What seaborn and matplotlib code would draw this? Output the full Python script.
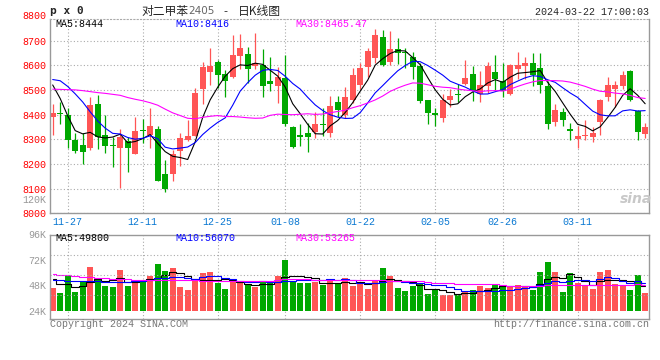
import numpy as np
import pandas as pd
import matplotlib
matplotlib.use('Agg')
import matplotlib.pyplot as plt
import seaborn as sns

# trading days on the chart (exchange shut 2024-01-01 and 2024-02-09..16)
holidays = ['2024-01-01', '2024-02-09', '2024-02-12', '2024-02-13',
            '2024-02-14', '2024-02-15', '2024-02-16']
dates = pd.bdate_range('2023-11-23', '2024-03-22', freq='C', holidays=holidays)

opens = [8392, 8405, 8399, 8295, 8277, 8264, 8443, 8318, 8278, 8266,
         8291, 8241, 8338, 8318, 8342, 8160, 8158, 8253, 8295, 8314,
         8504, 8574, 8611, 8565, 8551, 8638, 8646, 8595, 8601, 8537,
         8516, 8547, 8351, 8318, 8324, 8331, 8362, 8324, 8449, 8399,
         8459, 8520, 8591, 8628, 8716, 8611, 8665, 8655, 8632, 8595,
         8459, 8405, 8388, 8459, 8484, 8523, 8565, 8484, 8514, 8574,
         8537, 8484, 8585, 8595, 8608, 8588, 8514, 8368, 8412, 8342,
         8303, 8314, 8308, 8368, 8473, 8503, 8514, 8577, 8416, 8322]
highs = [8443, 8449, 8426, 8324, 8324, 8470, 8479, 8399, 8308, 8341,
         8308, 8392, 8384, 8426, 8354, 8214, 8257, 8327, 8376, 8507,
         8611, 8669, 8622, 8581, 8723, 8727, 8673, 8732, 8665, 8635,
         8592, 8642, 8354, 8360, 8365, 8410, 8426, 8476, 8476, 8511,
         8590, 8608, 8669, 8746, 8743, 8739, 8709, 8669, 8655, 8608,
         8459, 8426, 8484, 8503, 8524, 8622, 8595, 8577, 8615, 8642,
         8608, 8605, 8655, 8632, 8649, 8649, 8534, 8443, 8426, 8365,
         8354, 8378, 8351, 8465, 8551, 8534, 8577, 8580, 8420, 8365]
lows = [8318, 8362, 8266, 8246, 8200, 8257, 8260, 8246, 8187, 8104,
        8166, 8241, 8284, 8264, 8129, 8088, 8129, 8193, 8291, 8314,
        8443, 8520, 8507, 8473, 8547, 8584, 8527, 8584, 8473, 8496,
        8446, 8354, 8264, 8271, 8247, 8305, 8314, 8311, 8390, 8388,
        8446, 8503, 8552, 8607, 8595, 8601, 8603, 8590, 8543, 8446,
        8362, 8354, 8368, 8430, 8449, 8520, 8453, 8449, 8489, 8500,
        8470, 8480, 8543, 8543, 8514, 8486, 8341, 8354, 8354, 8297,
        8264, 8297, 8287, 8318, 8453, 8430, 8503, 8453, 8295, 8304]
closes = [8408, 8403, 8295, 8253, 8250, 8439, 8311, 8273, 8272, 8308,
          8266, 8335, 8332, 8354, 8131, 8097, 8241, 8307, 8314, 8489,
          8592, 8597, 8561, 8538, 8642, 8669, 8584, 8608, 8514, 8523,
          8551, 8362, 8270, 8311, 8308, 8361, 8356, 8435, 8419, 8470,
          8561, 8588, 8659, 8723, 8601, 8666, 8649, 8649, 8592, 8455,
          8406, 8400, 8458, 8476, 8478, 8550, 8495, 8521, 8596, 8546,
          8495, 8600, 8600, 8610, 8562, 8520, 8360, 8418, 8377, 8333,
          8314, 8319, 8327, 8460, 8521, 8520, 8561, 8461, 8328, 8349]
volumes = [45600, 40900, 56700, 41900, 51900, 65400, 52900, 47800, 46600, 62400,
           47500, 50500, 52400, 56900, 68400, 61600, 64500, 46600, 43800, 52900,
           59800, 60700, 50300, 44700, 51900, 50300, 49100, 46600, 51300, 51300,
           56900, 71700, 52200, 50600, 50600, 51600, 48500, 52200, 49100, 55200,
           47500, 50200, 44900, 52000, 64500, 56700, 45800, 42800, 47300, 49400,
           40300, 43500, 38800, 38800, 40300, 41900, 44000, 47200, 45600, 49700,
           48900, 46300, 48200, 46300, 43800, 60500, 69900, 60700, 41700, 59800,
           50100, 47200, 44900, 60500, 62400, 49700, 47200, 43600, 57700, 40900]

# moving-average values before each window fills (earlier days are off the chart)
ma5_head = [8520, 8465, 8395, 8335]
ma10_head = [8542, 8537, 8514, 8484, 8451, 8411, 8374, 8345, 8324]
ma30_head = [8503, 8502, 8501, 8500, 8497, 8493, 8489, 8486, 8482, 8478,
             8469, 8462, 8456, 8448, 8438, 8422, 8407, 8396, 8385, 8383,
             8389, 8393, 8396, 8392, 8392, 8390, 8387, 8385, 8386]
vma5_head = [53700, 49700, 49200, 46200]
vma10_head = [52900, 52900, 52500, 52300, 52000, 52000, 52000, 51500, 51000]
vma30_head = [58600, 58200, 57600, 57000, 56400, 56000, 55500, 55000, 54500, 54000,
              53800, 53500, 53200, 53000, 52900, 52900, 52900, 52900, 52800, 52700,
              52600, 52500, 52400, 52300, 52300, 52200, 52200, 52200, 52200]

tick_labels = ['11-27', '12-11', '12-25', '01-08', '01-22', '02-05', '02-26', '03-11']
price_ticks = [8000, 8100, 8200, 8300, 8400, 8500, 8600, 8700]
vol_ticks = [24000, 48000, 72000, 96000]
vol_tick_labels = ['24K', '48K', '72K', '96K']
ma_price_text = ['MA5:8444', 'MA10:8416', 'MA30:8465.47']
ma_vol_text = ['MA5:49800', 'MA10:56070', 'MA30:53265']
ma_colors = ['black', '#0000ff', '#ff00ff']

RED = '#ff5555'
GREEN = '#00a800'
GRID = '#aaaaaa'
FRAME = '#999999'
MONO = 'Liberation Mono'

sns.set_style('white')
plt.rcParams['font.family'] = ['DejaVu Sans', 'Noto Sans CJK SC']

df = pd.DataFrame({'date': dates, 'open': opens, 'high': highs, 'low': lows,
                   'close': closes, 'volume': volumes})
df['x'] = np.arange(len(df))


def moving_avg(series, window, head):
    ma = series.rolling(window).mean()
    ma.iloc[:len(head)] = head
    return ma


df['ma5'] = moving_avg(df['close'], 5, ma5_head)
df['ma10'] = moving_avg(df['close'], 10, ma10_head)
df['ma30'] = moving_avg(df['close'], 30, ma30_head)
df['vma5'] = moving_avg(df['volume'], 5, vma5_head)
df['vma10'] = moving_avg(df['volume'], 10, vma10_head)
df['vma30'] = moving_avg(df['volume'], 30, vma30_head)

colors = np.where(df['close'] >= df['open'], RED, GREEN)
labels_md = list(df['date'].dt.strftime('%m-%d'))
tick_pos = [labels_md.index(t) for t in tick_labels]

W, H = 660, 360


def fx(x):
    return x / W


def fy(y):
    return 1 - y / H


fig = plt.figure(figsize=(6.6, 3.6), dpi=100)
ax = fig.add_axes([fx(50), fy(213.3), fx(599.3), (213.3 - 19.3) / H])
axv = fig.add_axes([fx(50), fy(318.5), fx(599.3), (318.5 - 234.5) / H])

# --- price panel ---
ax.vlines(df['x'], df['low'], df['high'], colors=colors, lw=0.9)
body_low = df[['open', 'close']].min(axis=1)
body_h = (df['close'] - df['open']).abs().clip(lower=4)
ax.bar(df['x'], body_h, bottom=body_low, width=0.8, color=colors, linewidth=0)

for col, c in zip(['ma5', 'ma10', 'ma30'], ma_colors):
    sns.lineplot(x=df['x'], y=df[col], ax=ax, color=c, lw=0.8)

ax.set_xlim(-0.36, 79.55)
ax.set_ylim(8000, 8786)
ax.set_yticks(price_ticks)
ax.set_yticklabels([str(t) for t in price_ticks], family=MONO, fontsize=7.2, color='red')
ax.set_xticks(tick_pos)
ax.set_xticklabels(tick_labels, family=MONO, fontsize=7.2, color='#0a78d2')
ax.tick_params(axis='y', length=0, pad=2.5)
ax.tick_params(axis='x', length=0, pad=3)
ax.set_xlabel('')
ax.set_ylabel('')
ax.grid(True, color=GRID, linestyle=(0, (1, 2)), lw=0.8)
for side in ['left', 'bottom', 'right']:
    ax.spines[side].set_color(FRAME)
    ax.spines[side].set_linewidth(1)
ax.spines['top'].set_color(GRID)
ax.spines['top'].set_linestyle((0, (1, 2)))
ax.annotate('8800', xy=(0, 8800), xycoords=ax.get_yaxis_transform(),
            xytext=(-4, 0), textcoords='offset pixels', ha='right', va='center',
            family=MONO, fontsize=7.2, color='red', annotation_clip=False)

# --- volume panel ---
axv.bar(df['x'], df['volume'] - vol_ticks[0], bottom=vol_ticks[0], width=0.8,
        color=colors, linewidth=0)
for col, c in zip(['vma5', 'vma10', 'vma30'], ma_colors):
    sns.lineplot(x=df['x'], y=df[col], ax=axv, color=c, lw=0.8, drawstyle='steps-mid')

axv.set_xlim(-0.36, 79.55)
axv.set_ylim(16900, 96000)
axv.set_yticks(vol_ticks)
axv.set_yticklabels(vol_tick_labels, family=MONO, fontsize=7.2, color='#999999')
axv.set_xticks(tick_pos)
axv.set_xticklabels([])
axv.tick_params(length=0, pad=2.5)
axv.set_xlabel('')
axv.set_ylabel('')
axv.grid(True, axis='x', color=GRID, linestyle=(0, (1, 2)), lw=0.8)
for f in [0.283, 0.514, 0.752]:
    axv.plot([0, 1], [f, f], transform=axv.transAxes, color=GRID,
             linestyle=(0, (1, 2)), lw=0.8)
for side in axv.spines:
    axv.spines[side].set_color(FRAME)
    axv.spines[side].set_linewidth(1)

# --- texts ---
fig.text(fx(50), fy(11.5), 'p x 0', family='DejaVu Sans Mono', fontsize=8,
         fontweight='bold', va='center')
fig.text(fx(141), fy(11), '对二甲苯', family=['Noto Sans CJK SC'], fontsize=8.5, va='center')
fig.text(fx(188), fy(11), '2405', family='DejaVu Sans', fontsize=7.5, color='#666666', va='center')
fig.text(fx(225), fy(11), '-', family='DejaVu Sans', fontsize=8, ha='center', va='center')
fig.text(fx(238), fy(11), '日K线图', family=['Noto Sans CJK SC'], fontsize=8.5, va='center')
fig.text(fx(649), fy(12), '2024-03-22 17:00:03', family=MONO, fontsize=7.2,
         ha='right', va='center')

for txt, c, x0 in zip(ma_price_text, ma_colors, [55, 175, 295]):
    fig.text(fx(x0), fy(24), txt, family=MONO, fontsize=7.2, color=c, va='center')
for txt, c, x0 in zip(ma_vol_text, ma_colors, [55, 175, 295]):
    fig.text(fx(x0), fy(238), txt, family=MONO, fontsize=7.2, color=c, va='center')

fig.text(fx(46), fy(200), '120K', family=MONO, fontsize=7.2, color='#999999',
         ha='right', va='center')
fig.text(fx(636), fy(199), 'sina', fontsize=10, fontstyle='italic', fontweight='bold',
         color='#c8c8c8', ha='center', va='center')
fig.text(fx(50), fy(324), 'Copyright 2024 SINA.COM', family=MONO, fontsize=7.2,
         color='#777777', va='center')
fig.text(fx(649), fy(324), 'http://finance.sina.com.cn', family=MONO, fontsize=7.2,
         color='#777777', ha='right', va='center')

fig.savefig('out.png', dpi=100)
